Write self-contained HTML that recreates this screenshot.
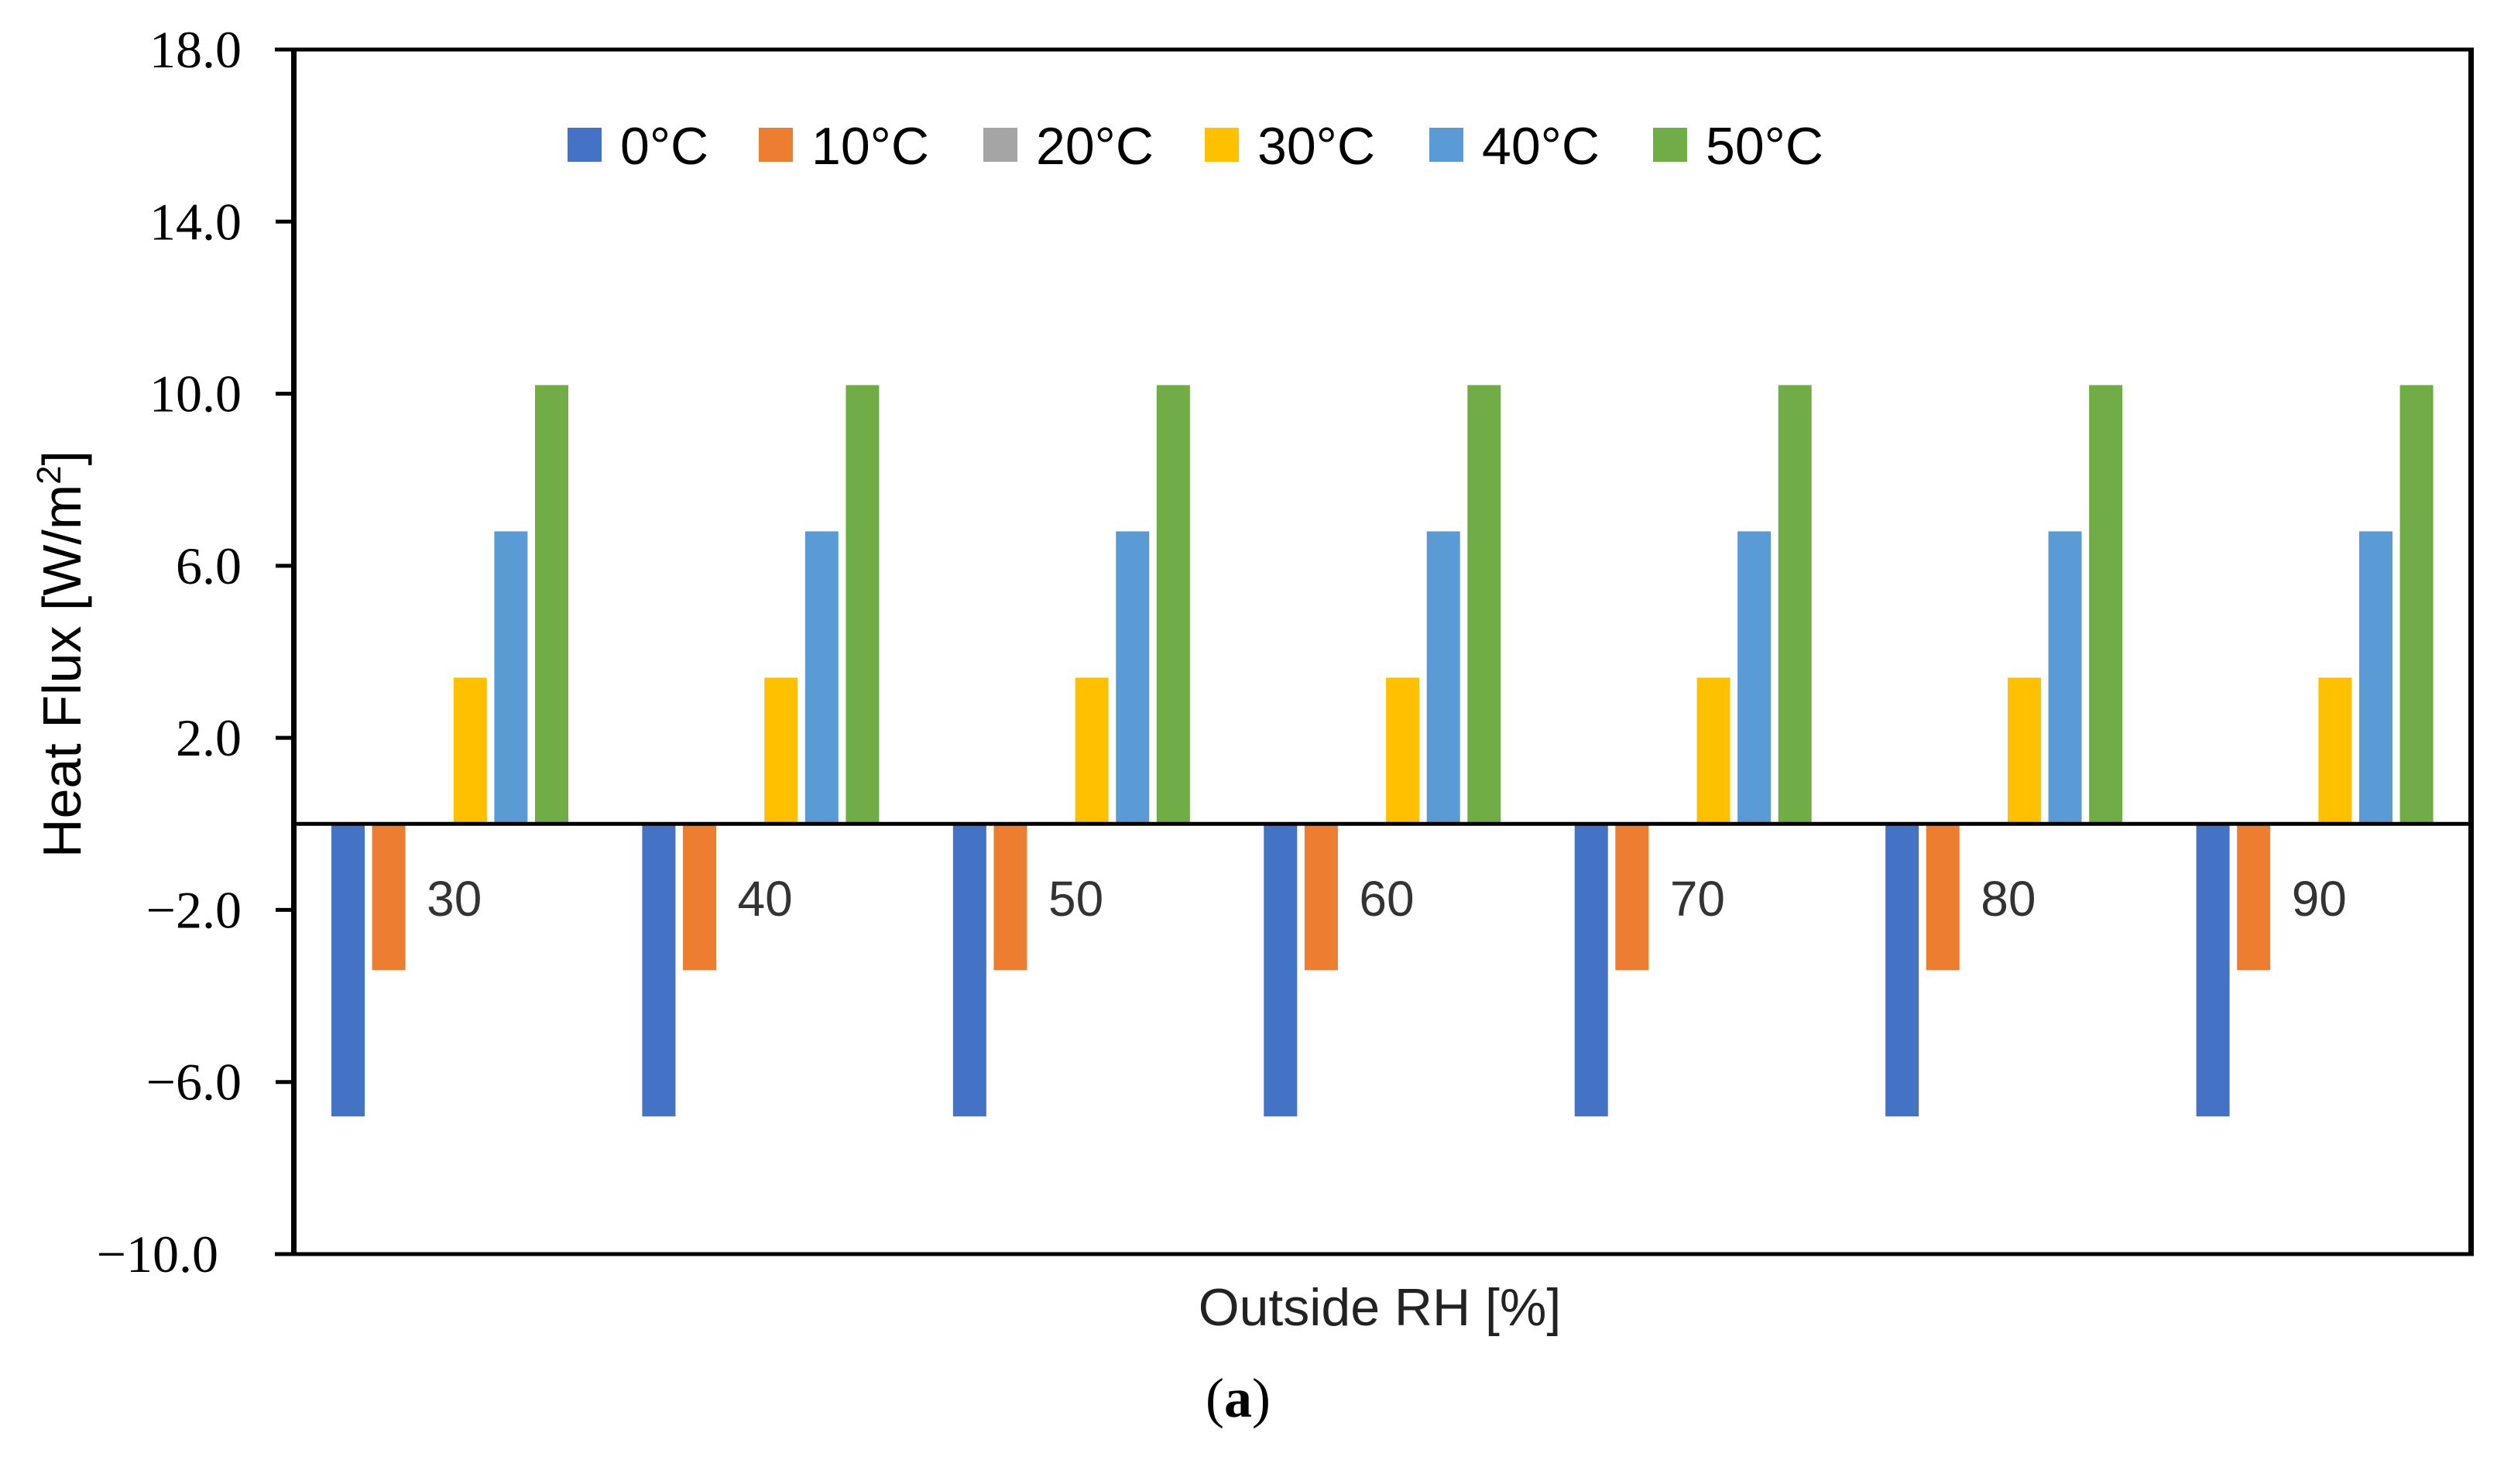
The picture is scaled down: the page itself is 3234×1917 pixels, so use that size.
<!DOCTYPE html>
<html><head><meta charset="utf-8"><style>
html,body{margin:0;padding:0;background:#fff;}
svg{display:block;}
</style></head><body>
<svg id="chart" width="3234" height="1917" viewBox="0 0 3234 1917" xmlns="http://www.w3.org/2000/svg">
<g id="bars"></g>
<g id="axes"></g>
<g id="legend"></g>
<text transform="translate(104,845) rotate(-90)" text-anchor="middle" font-family="Liberation Sans, sans-serif" font-size="70" fill="#000">Heat Flux [W/m<tspan font-size="44" dy="-26">2</tspan><tspan dy="26">]</tspan></text>
<text x="1782" y="1712" text-anchor="middle" font-family="Liberation Sans, sans-serif" font-size="68" fill="#222">Outside RH [%]</text>
<text x="1599" y="1830" text-anchor="middle" font-family="Liberation Serif, serif" font-size="72" fill="#000">(<tspan font-weight="bold">a</tspan>)</text>
</svg>
<script>
const categories = ["30","40","50","60","70","80","90"];
const seriesNames = ["0°C","10°C","20°C","30°C","40°C","50°C"];
const s0 = [-6.8,-6.8,-6.8,-6.8,-6.8,-6.8,-6.8];
const s10 = [-3.4,-3.4,-3.4,-3.4,-3.4,-3.4,-3.4];
const s20 = [0,0,0,0,0,0,0];
const s30 = [3.4,3.4,3.4,3.4,3.4,3.4,3.4];
const s40 = [6.8,6.8,6.8,6.8,6.8,6.8,6.8];
const s50 = [10.2,10.2,10.2,10.2,10.2,10.2,10.2];
const yTicks = [18,14,10,6,2,-2,-6,-10];
const yTickLabels = ["18.0","14.0","10.0","6.0","2.0","\u22122.0","\u22126.0","\u221210.0"];

const NS="http://www.w3.org/2000/svg";
const colors=["#4472C4","#ED7D31","#A5A5A5","#FFC000","#5B9BD5","#70AD47"];
const series=[s0,s10,s20,s30,s40,s50];
const plotL=381, plotR=3191, yMax=18, yMin=-10, yTop=64, yBot=1620;
function y(v){return yTop+(yMax-v)*(yBot-yTop)/(yMax-yMin);}
const catW=(plotR-plotL)/categories.length;
function x(ci,si){return plotL+ci*catW+47+si*52.6;}
function mk(tag,attrs,parent){const e=document.createElementNS(NS,tag);for(const k in attrs)e.setAttribute(k,attrs[k]);parent.appendChild(e);return e;}

const bars=document.getElementById('bars');
series.forEach((s,si)=>{s.forEach((v,ci)=>{
  const r=mk('rect',{x:x(ci,si),y:Math.min(y(v),y(0)),width:43,height:Math.abs(y(v)-y(0)),fill:colors[si]},bars);
  
  
});});

const axes=document.getElementById('axes');
// frame
let l;
l=mk('line',{x1:355,y1:yTop,x2:3195,y2:yTop,stroke:'#000','stroke-width':5},axes);


l=mk('line',{x1:355,y1:yBot,x2:3195,y2:yBot,stroke:'#000','stroke-width':5},axes);


l=mk('line',{x1:379.5,y1:yTop-2,x2:379.5,y2:yBot+2,stroke:'#000','stroke-width':7},axes);


l=mk('line',{x1:3191.5,y1:yTop-2,x2:3191.5,y2:yBot+2,stroke:'#000','stroke-width':7},axes);


l=mk('line',{x1:379,y1:y(0),x2:3191,y2:y(0),stroke:'#000','stroke-width':5},axes);


yTicks.forEach((t,i)=>{
  const tk=mk('line',{x1:356,y1:y(t),x2:379,y2:y(t),stroke:'#000','stroke-width':5},axes);
  
  
  const tx=mk('text',{x:i===7?282:312,y:y(t)+23,'text-anchor':'end','font-family':'Liberation Serif, serif','font-size':68,fill:'#000'},axes);
  tx.textContent=yTickLabels[i];
  
  
});
categories.forEach((c,ci)=>{
  const tx=mk('text',{x:plotL+(ci+0.5)*catW+5,y:1183,'text-anchor':'middle','font-family':'Liberation Sans, sans-serif','font-size':64,fill:'#333'},axes);
  tx.textContent=c;
  
  
});

const legend=document.getElementById('legend');
const legX=[733,980,1270,1556,1846,2135];
seriesNames.forEach((n,i)=>{
  const g=mk('g',{},legend);
  
  
  mk('rect',{x:legX[i],y:165,width:44,height:44,fill:colors[i]},g);
  const t=mk('text',{x:legX[i]+68,y:212,'font-family':'Liberation Sans, sans-serif','font-size':68,fill:'#000'},g);
  t.textContent=n;
});
</script>
</body></html>
